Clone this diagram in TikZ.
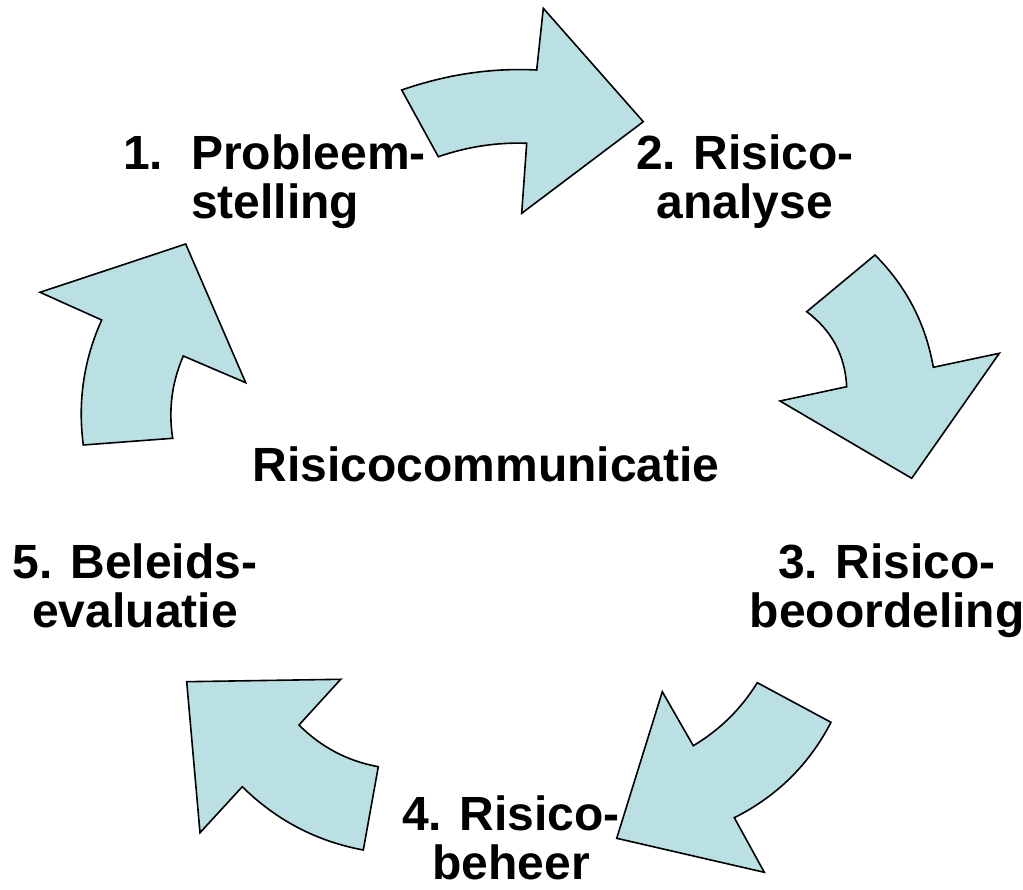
\documentclass[tikz,border=0pt]{standalone}
\usepackage{fontspec}
\setmainfont{Liberation Sans}
\usepackage{tikz}
\definecolor{pijlblauw}{RGB}{187,224,227}

\begin{document}
\begin{tikzpicture}[x=1pt, y=-1pt,
	every node/.style={inner sep=0pt, align=center, font=\fontsize{48}{48.5}\selectfont\bfseries},
	pijl/.style={draw=black, line width=1.6pt, line join=miter, fill=pijlblauw}]
			\useasboundingbox (0,0) rectangle (1023,890);
			
			% pijlen
			\draw[pijl] (401.7,90) .. controls (446.6,74.4) and (491.6,67.7) .. (536.7,70) -- (543.3,8.3) -- (643.3,121.7) -- (521.7,213.3) -- (526.7,143.3) .. controls (497.2,142.2) and (467.8,146.6) .. (438.3,156.7) -- cycle;
			\draw[pijl] (875,255) .. controls (906.3,286.3) and (925.8,323.8) .. (933.3,367.3) -- (999.3,353.3) -- (911.7,478.3) -- (780,401) -- (846.7,386.7) .. controls (845.1,355.4) and (831.8,330.4) .. (806.7,311.7) -- cycle;
			\draw[pijl] (693.3,745.7) .. controls (719.8,729.9) and (741.1,708.9) .. (757.3,682.7) -- (831,722.3) .. controls (809.1,764.6) and (776.8,796.4) .. (734.3,817.7) -- (764.3,872.3) -- (616.7,838.3) -- (662.3,691.7) -- cycle;
			\draw[pijl] (186.7,681.7) -- (340.7,679.3) -- (299,725) .. controls (321.1,747.2) and (347.6,761.1) .. (378.3,766.7) -- (363.3,850) .. controls (316.5,841.3) and (276.2,820.2) .. (242.3,786.7) -- (200,832.7) -- cycle;
			\draw[pijl] (185.7,244) -- (245.7,382.7) -- (183.3,356) .. controls (171.8,382.5) and (168.3,409.9) .. (172.7,438.3) -- (83.3,445) .. controls (77.6,401.6) and (83.7,359.9) .. (101.7,320) -- (40,292.3) -- cycle;
			
			% teksten
			\node[align=left, anchor=base west] (probleem) at (123,218.3){\makebox[68pt][l]{1.}Probleem-\\\hspace*{68pt}stelling};
			\node[anchor=base] (analyse) at (745,218.3){2. Risico-\\analyse};
			\node[anchor=base] (beoordeling) at (887,627){3. Risico-\\beoordeling};
			\node[anchor=base] (beheer) at (511,879){4. Risico-\\beheer};
			\node[anchor=base] (evaluatie) at (135,627){5. Beleids-\\evaluatie};
			\node[anchor=base] (communicatie) at (486,481.7){Risicocommunicatie};
\end{tikzpicture}
\end{document}
